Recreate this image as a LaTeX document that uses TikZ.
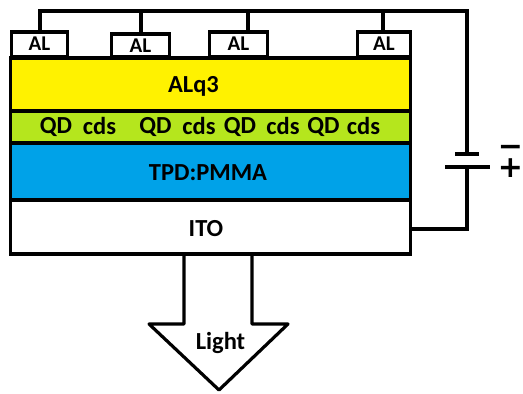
\documentclass[tikz,border=0pt]{standalone}
\usepackage{fontspec}
\setmainfont{Carlito}[BoldFont={Carlito Bold}]
\newfontfamily\symfont{DejaVu Sans}
\definecolor{layeryellow}{HTML}{FFF200}
\definecolor{layergreen}{HTML}{B5E61D}
\definecolor{layerblue}{HTML}{00A2E8}
\tikzset{
  x=1pt,y=-1pt,
  wire/.style={draw=black,line width=3.2pt,line join=miter},
  layer/.style={draw=black,line width=3.4pt,minimum width=400pt,anchor=north west,inner sep=0pt,outer sep=0pt},
  albox/.style={draw=black,fill=white,line width=3.4pt,anchor=south west,inner sep=0pt,outer sep=0pt,font=\bfseries\fontsize{21}{21}\selectfont},
  biglabel/.style={font=\bfseries\fontsize{24.5}{24.5}\selectfont,inner sep=0pt},
  plate/.style={draw=black,line width=3.2pt},
  signlabel/.style={font=\symfont\bfseries\fontsize{30}{30}\selectfont,inner sep=0pt},
}
\begin{document}
\begin{tikzpicture}
\useasboundingbox (0,0) rectangle (523,394);
\draw[wire,fill=white,line join=round] (184,254) -- (184,324) -- (149,324) -- (219,390) -- (288,324) -- (252,324) -- (252,254);
\node[layer,fill=layeryellow,minimum height=53pt] (alq) at (10.5,58) {};
\node[layer,fill=layergreen,minimum height=32pt] (qd) at (10.5,111) {};
\node[layer,fill=layerblue,minimum height=57pt] (tpd) at (10.5,143) {};
\node[layer,fill=white,minimum height=54pt] (ito) at (10.5,200) {};
\node[biglabel] (alqt) at (193.5,86) {ALq3};
\node[biglabel] (tpdt) at (208,172.5) {TPD:PMMA};
\node[biglabel] (itot) at (206,228.5) {ITO};
\node[biglabel] (q1) at (56,127.5) {QD};
\node[biglabel] (c1) at (99.5,126) {cds};
\node[biglabel] (q2) at (155.5,127.5) {QD};
\node[biglabel] (c2) at (199,126) {cds};
\node[biglabel] (q3) at (240,127.5) {QD};
\node[biglabel] (c3) at (283,126) {cds};
\node[biglabel] (q4) at (323.5,127.5) {QD};
\node[biglabel] (c4) at (363.5,126) {cds};
\node[albox,minimum width=56pt,minimum height=25pt] (al1) at (11.5,57) {\raisebox{2pt}{AL}};
\node[albox,minimum width=58pt,minimum height=23pt] (al2) at (111.5,57) {AL};
\node[albox,minimum width=58pt,minimum height=25pt] (al3) at (209.5,57) {\raisebox{2pt}{AL}};
\node[albox,minimum width=53pt,minimum height=25pt] (al4) at (357.5,57) {\raisebox{2pt}{AL}};
\coordinate (tl) at (40,11);
\coordinate (tr) at (467,11);
\coordinate (bt) at (467,154);
\coordinate (bb) at (467,167);
\coordinate (be) at (467,229);
\coordinate (itor) at (411,229);
\draw[wire] (al1.north -| tl) -- (tl) -- (tr) -- (bt);
\draw[wire] (al2.north -| 141,0) -- (141,11);
\draw[wire] (al3.north -| 248,0) -- (248,11);
\draw[wire] (al4.north -| 383,0) -- (383,11);
\draw[plate] (455,154) -- (479,154);
\draw[plate] (445,167) -- (490,167);
\draw[wire] (bb) -- (be) -- (itor);
\node[signlabel] (minus) at (510.5,151) {−};
\node[signlabel] (plus) at (510.5,168) {+};
\node[biglabel] (light) at (220.5,342.5) {Light};
\end{tikzpicture}
\end{document}
